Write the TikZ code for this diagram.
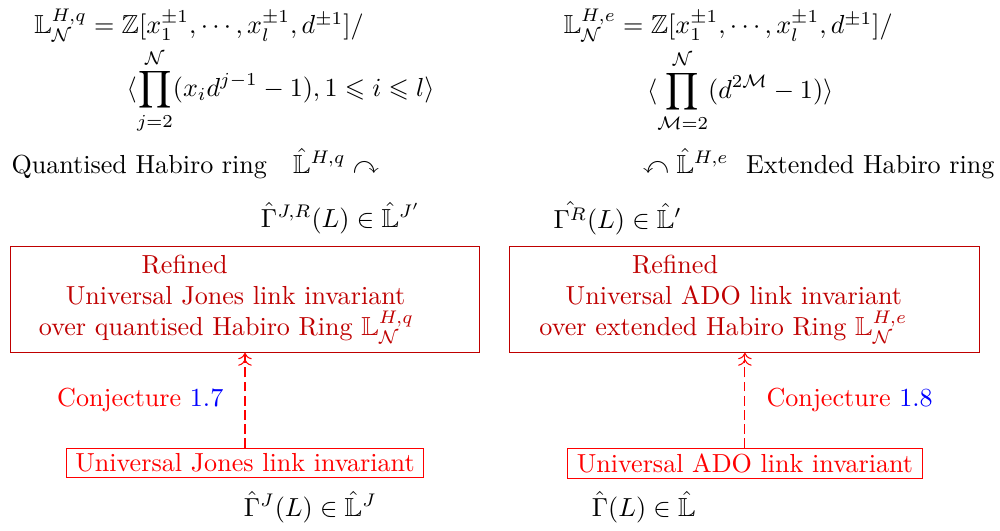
\documentclass[tikz,border=0pt]{standalone}
\usepackage{amssymb}
\usetikzlibrary{positioning, arrows.meta}
\colorlet{refred}{red!75!black}
\tikzset{
  lbl/.style={inner sep=1pt}, % loose text, kept tight
  refbox/.style={ % frame round a refined invariant
    rectangle, draw=refred,
    minimum width=6.33cm, minimum height=1.43cm,
  },
  reftext/.style={
    text=refred, align=center,
    inner sep=0pt, % text only, the frame is drawn by refbox
  },
  unibox/.style={ % universal invariant
    rectangle, draw=red, text=red,
    inner xsep=3.5pt, inner ysep=2pt,
  },
  conj/.style={ % conjectured lift
    -{To[]To[]}, dash pattern=on 3.8pt off 1.6pt, red,
  },
}

\begin{document}
\begin{tikzpicture}
  \useasboundingbox (0,0) rectangle (13.47,-7.15);
  % quantised Habiro ring
  \node[lbl] (hqdef) at (2.68,-0.34) {$\mathbb{L}^{H,q}_{\mathcal{N}}=\mathbb{Z}[x_1^{\pm 1},\cdots,x_l^{\pm 1},d^{\pm 1}]/$};
  \node[lbl] (hqrel) at (3.78,-1.23) {$\displaystyle\langle\prod_{j=2}^{\mathcal{N}}(x_i d^{j-1}-1), 1\leqslant i\leqslant l\rangle$};
  \node[lbl] (hqname) at (2.63,-2.20) {Quantised Habiro ring\quad $\hat{\mathbb{L}}^{H,q}\curvearrowright$};
  % extended Habiro ring
  \node[lbl] (hedef) at (9.81,-0.34) {$\mathbb{L}^{H,e}_{\mathcal{N}}=\mathbb{Z}[x_1^{\pm 1},\cdots,x_l^{\pm 1},d^{\pm 1}]/$};
  \node[lbl] (herel) at (9.97,-1.23) {$\displaystyle\langle\prod_{\mathcal{M}=2}^{\mathcal{N}}(d^{2\mathcal{M}}-1)\rangle$};
  \node[lbl] (hename) at (11.03,-2.20) {$\curvearrowleft\hat{\mathbb{L}}^{H,e}$~~Extended Habiro ring};
  % refined invariants
  \node[refbox] (refJ) at (3.30,-4.03) {};
  \node[reftext] (refJtext) at ([xshift=-0.25cm]refJ.center) {Refined\hspace*{32pt}\\ \hspace*{7pt}Universal Jones link invariant\\ over quantised Habiro Ring $\mathbb{L}^{H,q}_{\mathcal{N}}$};
  \node[refbox, right=0.39cm of refJ] (refA) {};
  \node[reftext] (refAtext) at ([xshift=-0.29cm]refA.center) {Refined\hspace*{37pt}\\ \hspace*{8pt}Universal ADO link invariant\\ over extended Habiro Ring $\mathbb{L}^{H,e}_{\mathcal{N}}$};
  \node[lbl] (gJR) at (4.59,-2.94) {$\hat{\Gamma}^{J,R}(L)\in\hat{\mathbb{L}}^{J'}$};
  \node[lbl] (gAR) at (8.32,-2.94) {$\hat{\Gamma^{R}}(L)\in\hat{\mathbb{L}}'$};
  % universal invariants
  \node[unibox, below=1.28cm of refJ] (uJ) {Universal Jones link invariant};
  \node[unibox, below=1.28cm of refA] (uA) {Universal ADO link invariant};
  \node[lbl] (gJ) at (4.18,-6.83) {$\hat{\Gamma}^{J}(L)\in\hat{\mathbb{L}}^{J}$};
  \node[lbl] (gA) at (8.67,-6.83) {$\hat{\Gamma}(L)\in\hat{\mathbb{L}}$};
  % conjectures
  \draw[conj] (uJ.north) -- (uJ.north |- refJ.south)
    node[midway, left=0.25cm, text=red, lbl] (cJ) {Conjecture \textcolor{blue}{1.7}};
  \draw[conj] (uA.north) -- (uA.north |- refA.south)
    node[midway, right=0.25cm, text=red, lbl] (cA) {Conjecture \textcolor{blue}{1.8}};
\end{tikzpicture}
\end{document}
